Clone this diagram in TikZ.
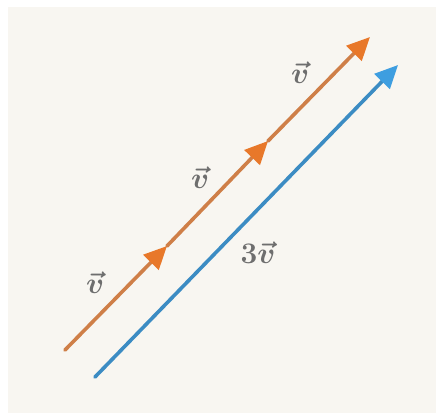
\documentclass[tikz,border=0pt]{standalone}
\usepackage{amsmath}
\usepackage{tikz}
\usetikzlibrary{arrows.meta}

\definecolor{paper}{HTML}{F8F6F1}
\definecolor{vline}{HTML}{CF7F48}
\definecolor{vhead}{HTML}{E8782A}
\definecolor{wline}{HTML}{3C8CC3}
\definecolor{whead}{HTML}{3E9EE0}
\definecolor{lbl}{HTML}{6E6E6E}

\begin{document}
\begin{tikzpicture}[
    x=1pt, y=-1pt,
    vec/.style={line width=3.6pt, line cap=round, vline,
        -{Triangle[length=23pt, width=21pt, color=vhead]}},
    triple/.style={line width=3.6pt, line cap=round, wline,
        -{Triangle[length=23pt, width=21pt, color=whead]}},
    lab/.style={font=\fontsize{24.88}{28}\selectfont\boldmath, text=lbl,
        inner sep=1pt, scale=1.2, transform shape}
]
% background
\useasboundingbox (0,0) rectangle (436,413);
\fill[paper] (8,7) rectangle (436,413);

% three copies of v, head to tail
\coordinate (o0) at (65,350);
\coordinate (o1) at (167,246);
\coordinate (o2) at (268,141);
\coordinate (o3) at (370,37);
\draw[vec] (o0) -- (o1);
\draw[vec] (o1) -- (o2);
\draw[vec] (o2) -- (o3);

% the sum 3v
\coordinate (b0) at (95,377);
\coordinate (b1) at (398,65);
\draw[triple] (b0) -- (b1);

% labels
\node[lab] (va) at (95,283) {$\vec{v}$};
\node[lab] (vb) at (200,178) {$\vec{v}$};
\node[lab] (vc) at (300,73) {$\vec{v}$};
\node[lab] (vs) at (258,253) {$3\vec{v}$};

\end{tikzpicture}
\end{document}
